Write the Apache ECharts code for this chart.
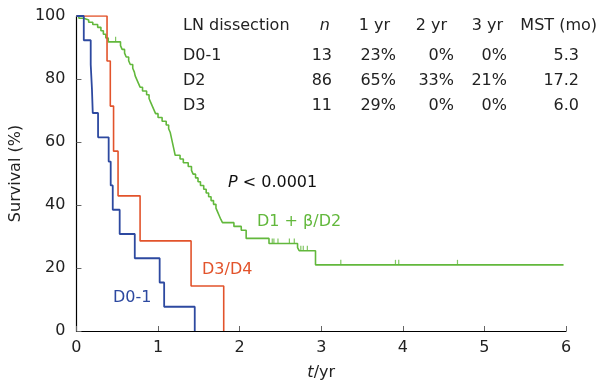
<!DOCTYPE html>
<html>
<head>
<meta charset="utf-8">
<script src="https://cdn.jsdelivr.net/npm/echarts@6/dist/echarts.min.js"></script>
<style>
  html, body { margin: 0; padding: 0; background: #fff; }
  #main { width: 601px; height: 387px; }
</style>
</head>
<body>
<div id="main"></div>
<script>
// Kaplan-Meier steps: [time (yr), survival (%) after the drop]
var d01Steps = [[0, 100], [0.09, 92.3], [0.175, 84.6], [0.19, 76.9], [0.2, 69.2], [0.265, 61.5],
  [0.395, 53.8], [0.42, 46.2], [0.445, 38.5], [0.53, 30.8], [0.715, 23.1], [1.02, 15.4],
  [1.075, 7.7], [1.45, 0]];

var d34Steps = [[0, 100], [0.375, 85.7], [0.415, 71.4], [0.455, 57.1], [0.51, 42.9],
  [0.78, 28.6], [1.405, 14.3], [1.805, 0]];

var d2Steps = [[0, 100], [0.03, 99.3], [0.09, 98.7], [0.15, 98.0], [0.2, 97.3], [0.26, 96.4],
  [0.3, 95.3], [0.33, 94.2], [0.36, 93.0], [0.39, 91.8], [0.54, 90.6], [0.56, 89.4],
  [0.59, 88.2], [0.61, 87.0], [0.64, 85.8], [0.66, 84.6], [0.69, 83.4], [0.71, 82.2],
  [0.72, 81.0], [0.74, 79.8], [0.76, 78.6], [0.78, 77.4], [0.81, 76.2], [0.86, 75.0],
  [0.89, 73.8], [0.91, 72.6], [0.93, 71.4], [0.95, 70.2], [0.97, 69.0], [1.0, 67.8],
  [1.05, 66.6], [1.1, 65.4], [1.13, 64.2], [1.15, 63.0], [1.16, 61.8], [1.17, 60.6],
  [1.18, 59.4], [1.19, 58.2], [1.2, 57.0], [1.21, 55.8], [1.27, 54.6], [1.31, 53.4],
  [1.37, 52.2], [1.41, 51.0], [1.43, 49.8], [1.46, 48.6], [1.49, 47.4], [1.52, 46.2],
  [1.56, 45.0], [1.59, 43.8], [1.62, 42.6], [1.65, 41.4], [1.68, 40.2], [1.71, 39.0],
  [1.73, 37.8], [1.75, 36.6], [1.77, 35.4], [1.79, 34.4], [1.93, 33.2], [2.02, 32.0],
  [2.08, 29.4], [2.36, 27.8], [2.71, 26.5], [2.73, 25.5], [2.93, 21.0], [5.97, 21.0]];

// censored observations on the D1 + beta/D2 curve
var d2Censored = [[0.48, 91.8], [2.40, 27.8], [2.42, 27.8], [2.47, 27.8], [2.61, 27.8],
  [2.67, 27.8], [2.75, 25.5], [2.78, 25.5], [2.83, 25.5], [3.24, 21], [3.91, 21],
  [3.95, 21], [4.67, 21]];

var xTicks = [0, 1, 2, 3, 4, 5, 6];
var yTicks = [0, 20, 40, 60, 80, 100];

var tableHeader = ['LN dissection', 'n', '1 yr', '2 yr', '3 yr', 'MST (mo)'];
var tableRows = [
  ['D0-1', '13', '23%', '0%', '0%', '5.3'],
  ['D2', '86', '65%', '33%', '21%', '17.2'],
  ['D3', '11', '29%', '0%', '0%', '6.0']
];

var blue = '#2d49a0';
var red = '#e2532b';
var green = '#62b83c';
var font = '"DejaVu Sans", Verdana, sans-serif';

var myChart = echarts.init(document.getElementById('main'));

// table text
var headX = [183, 330, 390, 447, 503, 597];
var cellX = [183, 332, 396, 454, 507, 579];
var rowY = [56, 81, 106];
var graphics = [];
tableHeader.forEach(function (h, i) {
  graphics.push({
    type: 'text',
    style: {
      text: i === 1 ? '{i|' + h + '}' : h,
      x: headX[i], y: 26,
      align: i === 0 ? 'left' : 'right',
      verticalAlign: 'middle',
      font: '16px ' + font,
      fill: '#222',
      rich: { i: { fontStyle: 'italic', fontSize: 16, fontFamily: font } }
    }
  });
});
tableRows.forEach(function (row, r) {
  row.forEach(function (c, i) {
    graphics.push({
      type: 'text',
      style: {
        text: c,
        x: cellX[i], y: rowY[r],
        align: i === 0 ? 'left' : 'right',
        verticalAlign: 'middle',
        font: '16px ' + font,
        fill: '#222'
      }
    });
  });
});

// curve annotations
var notes = [
  { text: '{i|P} < 0.0001', x: 228, y: 183, color: '#111' },
  { text: 'D1 + \u03b2/D2', x: 257, y: 222, color: green },
  { text: 'D3/D4', x: 202, y: 270, color: red },
  { text: 'D0-1', x: 113, y: 298, color: blue }
];
notes.forEach(function (n) {
  graphics.push({
    type: 'text',
    style: {
      text: n.text, x: n.x, y: n.y,
      align: 'left', verticalAlign: 'middle',
      font: '16px ' + font, fill: n.color,
      rich: { i: { fontStyle: 'italic', fontSize: 16, fontFamily: font, fill: n.color } }
    }
  });
});

var option = {
  animation: false,
  grid: { left: 75, right: 35, top: 16, bottom: 56 },
  xAxis: {
    type: 'value',
    min: xTicks[0],
    max: xTicks[xTicks.length - 1],
    interval: 1,
    name: '{i|t}/yr',
    nameLocation: 'middle',
    nameGap: 34,
    nameTextStyle: {
      fontSize: 16, color: '#222', fontFamily: font,
      rich: { i: { fontStyle: 'italic', fontSize: 16, color: '#222', fontFamily: font } }
    },
    axisLine: { lineStyle: { color: '#000', width: 1.2 } },
    axisTick: { inside: true, length: 5, lineStyle: { color: '#666' } },
    axisLabel: { fontSize: 16, color: '#222', fontFamily: font, margin: 9 },
    splitLine: { show: false }
  },
  yAxis: {
    type: 'value',
    min: yTicks[0],
    max: yTicks[yTicks.length - 1],
    interval: 20,
    name: 'Survival (%)',
    nameLocation: 'middle',
    nameGap: 47,
    nameTextStyle: { fontSize: 16, color: '#222', fontFamily: font },
    axisLine: { show: true, lineStyle: { color: '#000', width: 1.2 } },
    axisTick: { show: true, inside: true, length: 5, lineStyle: { color: '#666' } },
    axisLabel: { fontSize: 16, color: '#222', fontFamily: font, margin: 11 },
    splitLine: { show: false }
  },
  graphic: graphics,
  series: [
    {
      name: 'D1 + \u03b2/D2', type: 'line', step: 'end', showSymbol: false,
      data: d2Steps, lineStyle: { color: green, width: 1.6 }, z: 3
    },
    {
      name: 'D2 censored', type: 'scatter', data: d2Censored,
      symbol: 'rect', symbolSize: [1.2, 5], symbolOffset: [0, -2.5],
      itemStyle: { color: green }, z: 3
    },
    {
      name: 'D3/D4', type: 'line', step: 'end', showSymbol: false,
      data: d34Steps, lineStyle: { color: red, width: 1.6 }, z: 4
    },
    {
      name: 'D0-1', type: 'line', step: 'end', showSymbol: false,
      data: d01Steps, lineStyle: { color: blue, width: 1.8 }, z: 5
    }
  ]
};

myChart.setOption(option);
</script>
</body>
</html>
